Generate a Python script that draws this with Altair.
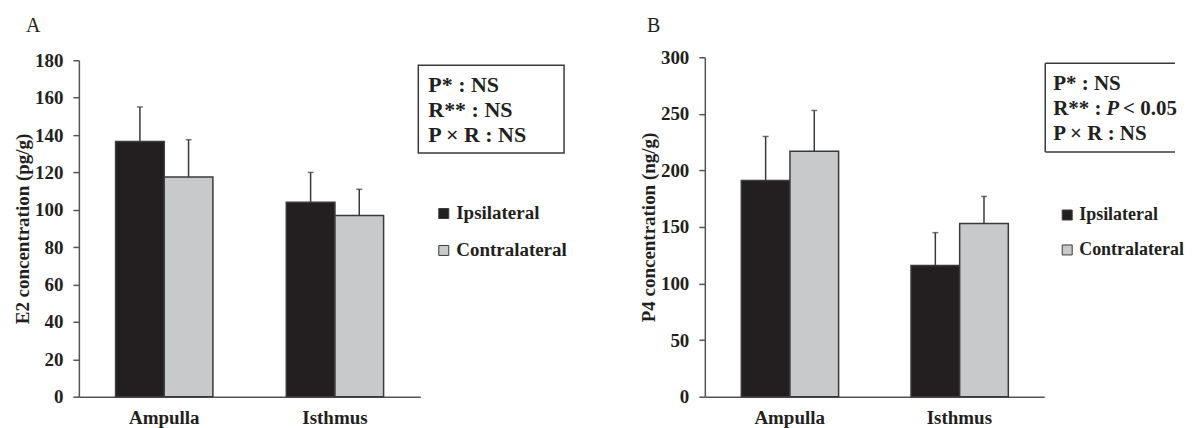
import altair as alt
import pandas as pd

FONT = "Liberation Serif"
DARK = "#231f20"
GRAY = "#c8c9cb"
LINE = "#3a3a3a"

locations = ["Ampulla", "Isthmus"]
sides = ["Ipsilateral", "Contralateral"]

# order: Ampulla-Ipsi, Ampulla-Contra, Isthmus-Ipsi, Isthmus-Contra
row_loc = ["Ampulla", "Ampulla", "Isthmus", "Isthmus"]
row_side = ["Ipsilateral", "Contralateral", "Ipsilateral", "Contralateral"]

e2_mean = [136.5, 117.5, 104.0, 97.0]
e2_se = [18.5, 20.0, 16.0, 14.0]
p4_mean = [191.0, 217.0, 116.0, 153.0]
p4_se = [39.0, 36.0, 29.0, 24.0]

e2_ticks = [0, 20, 40, 60, 80, 100, 120, 140, 160, 180]
p4_ticks = [0, 50, 100, 150, 200, 250, 300]

e2_stats = ["P* : NS", "R** : NS", "P \u00d7 R : NS"]
p4_stats_line1 = "P* : NS"
p4_stats_line2 = ["R** : ", "P", "< 0.05"]
p4_stats_line3 = "P \u00d7 R : NS"


def frame(means, ses):
    return pd.DataFrame({
        "Location": row_loc,
        "Side": row_side,
        "mean": means,
        "upper": [m + s for m, s in zip(means, ses)],
    })


one = pd.DataFrame({"k": [0]})


def txt(text, x, y, size=22, style="normal", weight="bold", align="left", baseline="alphabetic"):
    return alt.Chart(one).mark_text(
        text=text, font=FONT, fontSize=size, fontWeight=weight, fontStyle=style,
        align=align, baseline=baseline, color="#231f20"
    ).encode(x=alt.value(x), y=alt.value(y))


def panel(df, ytitle, ymax, ticks, yrange, width, letter, letx, extra, legx, legy, legsize):
    base = alt.Chart(df)
    xaxis = alt.Axis(title=None, labelAngle=0, ticks=False, labelPadding=12,
                     labelFont=FONT, labelFontSize=19, labelFontWeight="bold",
                     labelColor="#231f20", domainColor="#555555", domainWidth=1.5)
    yaxis = alt.Axis(values=ticks, title=ytitle, grid=False, labelOverlap=False,
                     labelFont=FONT, labelFontSize=19, labelFontWeight="bold",
                     labelColor="#231f20", labelPadding=10,
                     tickSize=6, tickColor="#555555", tickWidth=1.5,
                     domainColor="#555555", domainWidth=1.5,
                     titleFont=FONT, titleFontSize=19, titleFontWeight="bold",
                     titleColor="#231f20", titlePadding=2)
    xs = alt.Scale(paddingInner=0.43, paddingOuter=0.215)
    ys = alt.Scale(domain=[0, ymax], range=yrange, nice=False, zero=True)
    x = alt.X("Location:N", sort=locations, scale=xs, axis=xaxis)
    xo = alt.XOffset("Side:N", sort=sides, scale=alt.Scale(paddingInner=0, paddingOuter=0))
    bars = base.mark_bar(stroke=LINE, strokeWidth=1.5).encode(
        x=x, xOffset=xo,
        y=alt.Y("mean:Q", scale=ys, axis=yaxis),
        color=alt.Color("Side:N", sort=sides,
                        scale=alt.Scale(domain=sides, range=[DARK, GRAY]),
                        legend=alt.Legend(title=None, orient="none", legendX=legx, legendY=legy,
                                          symbolType="square", symbolSize=100,
                                          symbolStrokeColor=LINE, symbolStrokeWidth=1,
                                          labelFont=FONT, labelFontSize=legsize, labelFontWeight="bold",
                                          labelColor="#231f20", labelOffset=3, rowPadding=17,
                                          padding=0)),
    )
    err = base.mark_rule(color=LINE, strokeWidth=1.5).encode(
        x=x, xOffset=xo,
        y=alt.Y("mean:Q", scale=ys, axis=yaxis, title=ytitle), y2="upper:Q")
    cap = base.mark_tick(color=LINE, thickness=1.5, size=6).encode(
        x=x, xOffset=xo,
        y=alt.Y("upper:Q", scale=ys, axis=yaxis, title=ytitle))
    lab = txt(letter, letx, -41, size=20, weight="normal", baseline="top")
    return alt.layer(bars, err, cap, lab, *extra).properties(width=width, height=340)


# Panel A annotations
boxA = alt.Chart(one).mark_rect(fillOpacity=0, stroke=LINE, strokeWidth=1.5).encode(
    x=alt.value(340), x2=alt.value(486), y=alt.value(8), y2=alt.value(96))
extraA = [boxA,
          txt(e2_stats[0], 350, 35),
          txt(e2_stats[1], 350, 60),
          txt(e2_stats[2], 350, 85)]

# Panel B annotations (box clipped at the right edge)
ruleB_top = alt.Chart(one).mark_rule(color=LINE, strokeWidth=1.5).encode(
    x=alt.value(341), x2=alt.value(471), y=alt.value(6))
ruleB_bot = alt.Chart(one).mark_rule(color=LINE, strokeWidth=1.5).encode(
    x=alt.value(341), x2=alt.value(471), y=alt.value(95))
ruleB_left = alt.Chart(one).mark_rule(color=LINE, strokeWidth=1.5).encode(
    x=alt.value(341), y=alt.value(6), y2=alt.value(95))
extraB = [ruleB_top, ruleB_bot, ruleB_left,
          txt(p4_stats_line1, 349, 33, size=21),
          txt(p4_stats_line2[0], 349, 58, size=21),
          txt(p4_stats_line2[1], 402, 58, size=21, style="italic"),
          txt(p4_stats_line2[2], 419, 58, size=21),
          txt(p4_stats_line3, 349, 83, size=21)]

A = panel(frame(e2_mean, e2_se), "E2 concentration (pg/g)", 180, e2_ticks, [340, 3], 342,
          "A", -53, extraA, 356, 147, 19)
B = panel(frame(p4_mean, p4_se), "P4 concentration (ng/g)", 300, p4_ticks, [340, 0], 340,
          "B", -58, extraB, 354, 149, 18)

chart = alt.hconcat(A, B, spacing=285, bounds="flush").resolve_scale(
    color="independent", y="independent", x="independent"
).resolve_legend(color="independent").properties(
    padding={"left": 5, "top": 8, "right": 0, "bottom": 0}
).configure(background="white").configure_view(stroke=None).configure_axisY(labelOverlap=False)

chart.save("out.html", embed_options={"renderer": "svg", "actions": False})
